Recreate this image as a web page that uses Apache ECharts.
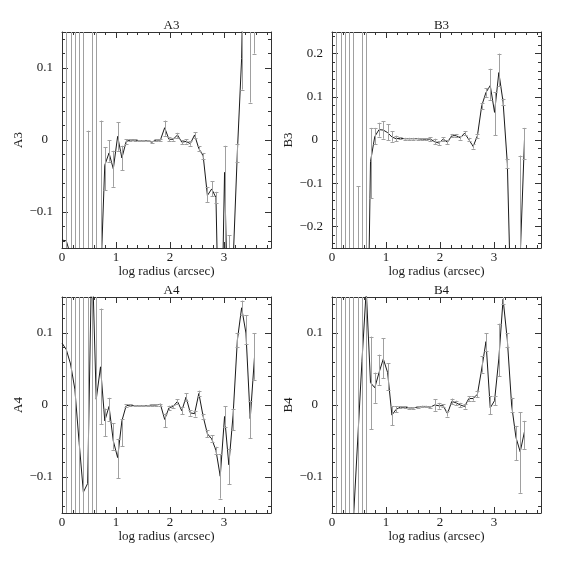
<!DOCTYPE html>
<html><head><meta charset="utf-8">
<script src="https://cdn.jsdelivr.net/npm/echarts@6/dist/echarts.min.js"></script>
<style>html,body{margin:0;padding:0;background:#fff}#c{width:574px;height:574px}</style>
</head><body><div id="c"></div>
<script>
// log radius (arcsec) of each isophote
const logRadius = [0, 0.079, 0.158, 0.238, 0.317, 0.396, 0.475, 0.554, 0.634, 0.713,
  0.792, 0.871, 0.950, 1.030, 1.109, 1.188, 1.267, 1.346, 1.426, 1.505,
  1.584, 1.663, 1.742, 1.822, 1.901, 1.980, 2.059, 2.138, 2.218, 2.297,
  2.376, 2.455, 2.534, 2.614, 2.693, 2.772, 2.851, 2.930, 3.010, 3.089,
  3.168, 3.247, 3.326, 3.406, 3.485, 3.564];

// A3
const a3 = [-0.139, -0.140, -0.160, -0.60, -0.60, -0.60, -0.60, -0.60, -0.60, -0.200,
  -0.035, -0.018, -0.040, 0.005, -0.025, -0.002, 0.000, 0.000, -0.001, -0.001,
  -0.001, -0.003, 0.000, 0.000, 0.017, 0.001, 0.001, 0.007, -0.003, -0.002,
  -0.005, 0.007, -0.012, -0.022, -0.077, -0.068, -0.080, -0.370, -0.045, -0.300,
  -0.170, -0.017, 0.113, 0.450, 0.400, 0.400];
const a3Lo = [null, -1, -1, -1, -1, -1, -1, -1, -1, -1,
  -0.070, -0.030, -0.065, -0.015, -0.042, -0.005, -0.001, -0.001, -0.002, -0.002,
  -0.002, -0.004, -0.001, -0.001, 0.006, -0.002, -0.001, 0.003, -0.006, -0.005,
  -0.008, 0.003, -0.015, -0.026, -0.086, -0.078, -0.088, null, -0.160, -1,
  null, -0.030, 0.070, null, 0.052, 0.120];
const a3Hi = [null, 1, 1, 1, 1, 1, 0.013, 1, 1, 0.027,
  -0.010, 0.000, -0.015, 0.025, -0.008, 0.001, 0.001, 0.001, 0.000, 0.000,
  0.000, -0.002, 0.001, 0.002, 0.027, 0.004, 0.003, 0.010, 0.000, 0.001,
  -0.002, 0.011, -0.009, -0.018, -0.065, -0.057, -0.072, null, -0.008, -0.132,
  null, -0.005, 0.160, null, 1, 1];

// B3
const b3 = [-1, -1, -1, -1, -1, -1, -1, -1, -0.70, -0.050,
  0.008, 0.024, 0.023, 0.017, 0.007, 0.003, 0.004, 0.003, 0.003, 0.003,
  0.003, 0.002, 0.002, 0.002, -0.004, -0.007, 0.002, -0.005, 0.010, 0.010,
  0.005, 0.016, 0.001, -0.015, 0.010, 0.079, 0.110, 0.126, 0.064, 0.156,
  0.088, -0.055, -0.450, -0.450, -0.270, 0.000];
const b3Lo = [null, -1, -1, -1, -1, -1, -1, -1, -1, -0.135,
  -0.010, 0.008, 0.003, 0.000, -0.004, -0.003, 0.002, 0.001, 0.001, 0.001,
  0.001, 0.000, 0.000, -0.003, -0.010, -0.011, -0.002, -0.009, 0.006, 0.006,
  0.001, 0.012, -0.003, -0.020, 0.005, 0.072, 0.100, 0.093, 0.011, 0.125,
  0.080, -0.065, null, null, -1, -0.044];
const b3Hi = [null, 1, 1, 1, 1, 1, -0.107, 1, 1, 0.028,
  0.028, 0.040, 0.043, 0.037, 0.020, 0.010, 0.006, 0.005, 0.005, 0.005,
  0.005, 0.004, 0.004, 0.006, 0.003, -0.003, 0.006, -0.001, 0.014, 0.014,
  0.009, 0.020, 0.005, -0.010, 0.015, 0.086, 0.120, 0.165, 0.110, 0.200,
  0.096, -0.045, null, null, -0.036, 0.028];

// A4
const a4 = [0.086, 0.077, 0.057, 0.022, -0.052, -0.121, -0.109, 0.220, 0.008, 0.053,
  -0.022, -0.002, -0.050, -0.073, -0.022, -0.001, 0.000, -0.001, -0.001, -0.001,
  -0.001, 0.000, 0.000, 0.001, -0.020, -0.004, -0.002, 0.005, -0.008, 0.011,
  -0.011, -0.012, 0.016, -0.016, -0.040, -0.047, -0.063, -0.099, -0.016, -0.083,
  -0.014, 0.090, 0.135, 0.100, -0.019, 0.066];
const a4Lo = [null, -1, -1, -1, -1, -1, -1, -1, -1, -0.027,
  -0.043, -0.022, -0.062, -0.102, -0.057, -0.003, -0.001, -0.002, -0.002, -0.002,
  -0.002, -0.001, -0.001, -0.001, -0.031, -0.007, -0.004, 0.002, -0.013, 0.006,
  -0.015, -0.016, 0.012, -0.020, -0.045, -0.052, -0.068, -0.130, -0.030, -0.110,
  -0.035, 0.080, 0.125, 0.085, -0.046, 0.035];
const a4Hi = [null, 1, 1, 1, 1, 1, 1, 1, 1, 0.134,
  -0.005, 0.010, -0.025, -0.047, -0.020, 0.001, 0.001, 0.000, 0.000, 0.000,
  0.000, 0.001, 0.001, 0.002, -0.012, -0.001, 0.000, 0.008, -0.003, 0.016,
  -0.007, -0.008, 0.020, -0.012, -0.035, -0.042, -0.058, -0.068, -0.002, -0.061,
  -0.005, 0.100, 0.145, 0.125, 0.006, 0.100];

// B4
const b4 = [-0.50, -0.50, -0.50, -0.50, -0.50, -0.160, -0.050, 0.060, 0.160, 0.031,
  0.024, 0.045, 0.064, 0.045, -0.014, -0.006, -0.003, -0.003, -0.004, -0.004,
  -0.003, -0.002, -0.002, -0.003, 0.000, -0.001, -0.001, -0.012, 0.005, 0.003,
  0.000, -0.002, 0.009, 0.009, 0.015, 0.050, 0.088, -0.004, 0.006, 0.064,
  0.147, 0.090, 0.000, -0.045, -0.065, -0.037];
const b4Lo = [null, -1, -1, -1, -1, -1, -1, -1, -1, -0.034,
  0.003, 0.028, 0.037, 0.021, -0.028, -0.010, -0.004, -0.004, -0.005, -0.005,
  -0.004, -0.003, -0.003, -0.004, -0.008, -0.005, -0.003, -0.016, 0.001, 0.000,
  -0.003, -0.005, 0.006, 0.006, 0.011, 0.045, 0.075, -0.013, 0.000, 0.040,
  0.140, 0.080, -0.010, -0.077, -0.122, -0.061];
const b4Hi = [null, 1, 1, 1, 1, 1, 1, 1, 1, 0.095,
  0.045, 0.070, 0.093, 0.058, -0.002, -0.002, -0.002, -0.002, -0.003, -0.003,
  -0.002, -0.001, -0.001, -0.002, 0.008, 0.003, 0.001, -0.008, 0.009, 0.006,
  0.003, 0.001, 0.012, 0.012, 0.019, 0.068, 0.100, 0.012, 0.012, 0.113,
  0.155, 0.100, 0.010, -0.029, -0.010, -0.022];

const panelNames = ['A3', 'B3', 'A4', 'B4'];
const yLimits = [0.15, 0.25, 0.15, 0.15];
const xMax = 3.87;
const xTitle = 'log radius (arcsec)';

const FONT = 'Liberation Serif';
const INK = '#1a1a1a';
const AX = '#333';
const ERR = '#a0a0a0';
const layout = [
  {left: 62, top: 32}, {left: 332, top: 32},
  {left: 62, top: 297}, {left: 332, top: 297}
];
const W = 209, H = 216;
const values = [a3, b3, a4, b4];
const los = [a3Lo, b3Lo, a4Lo, b4Lo];
const his = [a3Hi, b3Hi, a4Hi, b4Hi];

function yFmt(v) {
  if (Math.abs(v * 10 - Math.round(v * 10)) > 1e-6) return '';
  if (Math.abs(v) < 1e-9) return '{z|0}';
  return (v < 0 ? '\u2212' : '') + Math.abs(v).toFixed(1);
}
function xFmt(v) {
  if (Math.abs(v - Math.round(v)) > 1e-6) return '';
  return String(Math.round(v));
}
const txt = {color: INK, fontFamily: FONT, fontSize: 13};

function renderErr(params, api) {
  const x = api.value(0), lo = api.value(1), hi = api.value(2);
  const cs = params.coordSys;
  const pLo = api.coord([x, lo]);
  const pHi = api.coord([x, hi]);
  const top = cs.y, bot = cs.y + cs.height;
  const px = Math.round(pLo[0]) + 0.5;
  const style = {stroke: ERR, lineWidth: 1, fill: null};
  const y1 = Math.max(top, Math.min(bot, pHi[1]));
  const y2 = Math.max(top, Math.min(bot, pLo[1]));
  const ch = [];
  if (y2 > y1) ch.push({type: 'line', shape: {x1: px, y1: y1, x2: px, y2: y2}, style: style});
  [pHi[1], pLo[1]].forEach(function (yy) {
    if (yy > top + 0.5 && yy < bot - 0.5) {
      const yc = Math.round(yy) + 0.5;
      ch.push({type: 'line', shape: {x1: px - 2, y1: yc, x2: px + 2, y2: yc}, style: style});
    }
  });
  return {type: 'group', children: ch};
}

const grid = [], xAxis = [], yAxis = [], series = [], title = [];
panelNames.forEach(function (name, i) {
  const L = layout[i];
  grid.push({left: L.left, top: L.top, width: W, height: H, containLabel: false});
  title.push({text: name, left: L.left + W / 2, top: L.top - 18, textAlign: 'center',
    textStyle: {color: INK, fontFamily: FONT, fontSize: 13, fontWeight: 'normal'}});
  ['bottom', 'top'].forEach(function (pos) {
    xAxis.push({
      type: 'value', gridIndex: i, position: pos, min: 0, max: xMax, interval: 1,
      axisLine: {show: true, onZero: false, lineStyle: {color: AX, width: 1}},
      axisTick: {show: true, inside: true, length: 6, lineStyle: {color: AX}},
      minorTick: {show: true, splitNumber: 5, length: 3, lineStyle: {color: AX}},
      splitLine: {show: false},
      axisLabel: Object.assign({show: pos === 'bottom', margin: 3, formatter: xFmt,
        showMinLabel: true, showMaxLabel: true}, txt),
      name: pos === 'bottom' ? xTitle : '', nameLocation: 'middle', nameGap: 14,
      nameTextStyle: txt
    });
  });
  const lim = yLimits[i];
  ['left', 'right'].forEach(function (pos) {
    yAxis.push({
      type: 'value', gridIndex: i, position: pos, min: -lim, max: lim,
      splitNumber: Math.round(lim * 2 / 0.1),
      axisLine: {show: true, onZero: false, lineStyle: {color: AX, width: 1}},
      axisTick: {show: true, inside: true, length: 6, lineStyle: {color: AX}},
      minorTick: {show: true, splitNumber: 5, length: 3, lineStyle: {color: AX}},
      splitLine: {show: false},
      axisLabel: Object.assign({show: pos === 'left', margin: 9, align: 'right', formatter: yFmt,
        rich: {z: Object.assign({padding: [0, 5, 0, 0]}, txt)}}, txt),
      name: pos === 'left' ? name : '', nameLocation: 'middle', nameGap: 35,
      nameTextStyle: txt
    });
  });
  const v = values[i], lo = los[i], hi = his[i];
  series.push({
    type: 'line', xAxisIndex: 2 * i, yAxisIndex: 2 * i,
    data: logRadius.map(function (x, k) { return [x, v[k]]; }),
    showSymbol: false, symbol: 'none', clip: true, animation: false,
    lineStyle: {color: INK, width: 1}, z: 2
  });
  const ed = [];
  logRadius.forEach(function (x, k) { if (lo[k] !== null) ed.push([x, lo[k], hi[k]]); });
  series.push({
    type: 'custom', xAxisIndex: 2 * i, yAxisIndex: 2 * i, data: ed,
    renderItem: renderErr, animation: false, z: 3, silent: true
  });
});

const chart = echarts.init(document.getElementById('c'), null, {renderer: 'canvas'});
chart.setOption({animation: false, backgroundColor: '#fff', title: title, grid: grid,
  xAxis: xAxis, yAxis: yAxis, series: series});
</script></body></html>
